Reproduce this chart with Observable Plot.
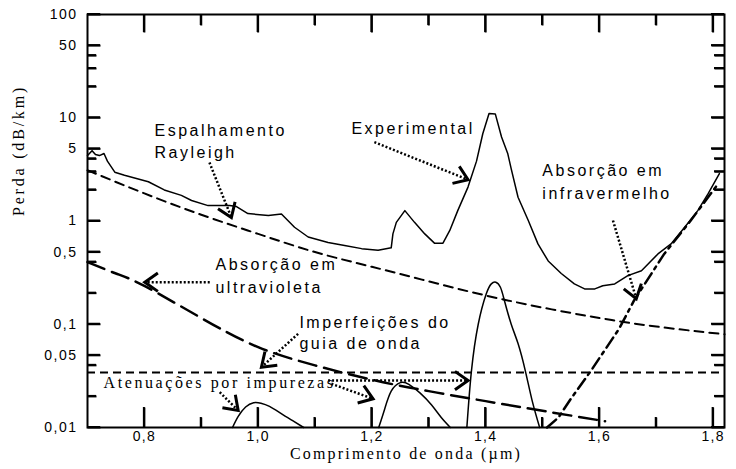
<!DOCTYPE html>
<html><head><meta charset="utf-8">
<script src="https://cdn.jsdelivr.net/npm/d3@7"></script>
<script src="https://cdn.jsdelivr.net/npm/@observablehq/plot@0.6"></script>
<style>
body{margin:0;background:#fff}
</style></head><body><div id="chart"></div>
<script>
// ---- data (wavelength µm, loss dB/km) ----
const experimental = [[0.700,4.3],[0.708,4.8],[0.714,4.4],[0.721,4.3],[0.729,4.5],[0.735,3.8],[0.748,2.97],[0.765,2.77],[0.807,2.4],[0.835,2.0],[0.865,1.77],[0.883,1.58],[0.912,1.41],[0.950,1.41],[0.962,1.38],[0.982,1.18],[1.018,1.13],[1.041,1.17],[1.064,0.87],[1.088,0.70],[1.123,0.62],[1.152,0.58],[1.182,0.54],[1.211,0.52],[1.234,0.55],[1.237,0.75],[1.243,0.97],[1.258,1.26],[1.275,0.97],[1.293,0.75],[1.310,0.61],[1.325,0.61],[1.337,0.81],[1.351,1.26],[1.369,2.13],[1.384,3.8],[1.395,7.0],[1.406,11.0],[1.417,10.9],[1.428,6.5],[1.439,4.47],[1.445,3.2],[1.457,1.70],[1.475,1.01],[1.492,0.60],[1.510,0.41],[1.533,0.31],[1.556,0.246],[1.574,0.22],[1.592,0.22],[1.606,0.236],[1.627,0.246],[1.650,0.296],[1.674,0.33],[1.703,0.48],[1.726,0.60],[1.750,0.87],[1.773,1.26],[1.791,1.83],[1.811,2.88]];
const rayleigh = [[0.70,3.1],[0.80,1.85],[0.90,1.15],[1.00,0.75],[1.10,0.50],[1.20,0.36],[1.30,0.26],[1.40,0.19],[1.50,0.145],[1.60,0.115],[1.70,0.095],[1.82,0.08]];
const ultraviolet = [[0.70,0.40],[0.75,0.31],[0.80,0.235],[0.90,0.115],[1.00,0.060],[1.10,0.040],[1.20,0.029],[1.30,0.0225],[1.40,0.018],[1.50,0.0145],[1.61,0.0115]];
const infrared = [[1.508,0.01],[1.528,0.0125],[1.55,0.019],[1.586,0.036],[1.635,0.091],[1.661,0.17],[1.714,0.48],[1.76,1.0],[1.809,2.3]];
const waveguideLevel = [0.034];
const impurity1 = [[0.955,0.01],[0.965,0.0128],[0.978,0.0158],[0.992,0.0174],[1.005,0.0172],[1.02,0.016],[1.04,0.0137],[1.06,0.0117],[1.08,0.01]];
const impurity2 = [[1.212,0.01],[1.222,0.0148],[1.234,0.0225],[1.25,0.0272],[1.265,0.0262],[1.285,0.0215],[1.305,0.0165],[1.322,0.0125],[1.338,0.01]];
const impurity3 = [[1.367,0.01],[1.375,0.035],[1.387,0.1],[1.401,0.196],[1.41,0.246],[1.418,0.255],[1.426,0.228],[1.433,0.17],[1.445,0.1],[1.457,0.065],[1.47,0.035],[1.482,0.018],[1.495,0.01]];

const yMajorTicks = [0.01,0.05,0.1,0.5,1,5,10,50,100];
const yMajorLabels = ["0,01","0,05","0,1","0,5","1","5","10","50","100"];
const yMinorTicks = [0.02,0.04,0.2,0.4,2,3,4,20,30,40];
const xMajorTicks = [0.8,1.0,1.2,1.4,1.6,1.8];
const xMajorLabels = ["0,8","1,0","1,2","1,4","1,6","1,8"];
const xMinorTicks = [0.9,1.1,1.3,1.5,1.7];

const sansLabels = [
  ["Espalhamento",0.8178,7.52],["Rayleigh",0.8178,4.61],
  ["Experimental",1.164,7.87],
  ["Absorção em",1.4997,3.08],["infravermelho",1.4997,1.85],
  ["Absorção em",0.925,0.379],["ultravioleta",0.925,0.227],
  ["Imperfeições do",1.0726,0.104],["guia de onda",1.0726,0.0651]
];
const serifLabels = [["Atenuações por impurezas",0.7281,0.0273]];
const yTitle = "Perda (dB/km)";
const xTitle = "Comprimento de onda (µm)";
// arrows: [from λ, from loss, tip λ, tip loss]
const arrows = [
  [0.9144,3.69,0.953,1.081],
  [1.2044,5.80,1.3691,2.51],
  [1.6239,1.011,1.6649,0.1764],
  [0.9149,0.2555,0.8007,0.2555],
  [1.0703,0.0808,1.0058,0.0384],
  [1.123,0.0285,1.3691,0.0285],
  [1.1288,0.0265,1.2021,0.01897],
  [0.9325,0.02197,0.9649,0.0146]
];

// ---- layout ----
const W=736,H=469,ML=87,MR=12,MT=14,MB=42;
const xDomain=[0.7,1.82], yDomain=[0.01,100];
const sx=d3.scaleLinear(xDomain,[ML,W-MR]);
const sy=d3.scaleLog(yDomain,[H-MB,MT]);
const arrowData = arrows.map(([a,b,c,d])=>({x1:a,y1:b,x2:c,y2:d,
  r: Math.atan2(sx(c)-sx(a), -(sy(d)-sy(b)))*180/Math.PI}));
const yLab = new Map(yMajorTicks.map((v,i)=>[v,yMajorLabels[i]]));
const xLab = new Map(xMajorTicks.map((v,i)=>[v,xMajorLabels[i]]));
const chevron = {draw(ctx,l){const a=16,t=35*Math.PI/180,h=a*Math.cos(t),w=a*Math.sin(t);
  ctx.moveTo(-w,-l+h);ctx.lineTo(0,-l);ctx.lineTo(w,-l+h);}};
const X=d=>d[0], Y=d=>d[1], I=d=>d;
const SANS="Liberation Sans, Arial, sans-serif", SERIF="Liberation Serif, Times New Roman, serif";
const xIn = px => sx.invert(ML+px), xInR = px => sx.invert(W-MR-px);
const yIn = px => sy.invert(H-MB-px), yInT = px => sy.invert(MT+px);
// inward tick segments, in data units, built from the tick arrays
const tickSegs = [
  ...yMajorTicks.map(v=>({x1:xDomain[0],x2:xIn(13),y1:v,y2:v})),
  ...yMinorTicks.map(v=>({x1:xDomain[0],x2:xIn(9),y1:v,y2:v})),
  ...yMajorTicks.map(v=>({x1:xInR(13),x2:xDomain[1],y1:v,y2:v})),
  ...yMinorTicks.map(v=>({x1:xInR(10),x2:xDomain[1],y1:v,y2:v})),
  ...xMajorTicks.map(v=>({x1:v,x2:v,y1:yDomain[0],y2:yIn(20)})),
  ...xMinorTicks.map(v=>({x1:v,x2:v,y1:yDomain[0],y2:yIn(10)})),
  ...xMajorTicks.map(v=>({x1:v,x2:v,y1:yInT(18),y2:yDomain[1]})),
  ...xMinorTicks.map(v=>({x1:v,x2:v,y1:yInT(11),y2:yDomain[1]}))
];

const plot = Plot.plot({
  width:W,height:H,marginLeft:ML,marginRight:MR,marginTop:MT,marginBottom:MB,
  style:{fontFamily:SANS,fontSize:"14px"},
  x:{domain:xDomain,axis:null},
  y:{type:"log",domain:yDomain,axis:null},
  marks:[
    Plot.line(experimental,{x:X,y:Y,stroke:"black",strokeWidth:1.5}),
    Plot.line(rayleigh,{x:X,y:Y,stroke:"black",strokeWidth:2,strokeDasharray:"9,6",curve:"natural"}),
    Plot.line(ultraviolet,{x:X,y:Y,stroke:"black",strokeWidth:2.5,strokeDasharray:"18,8",curve:"natural"}),
    Plot.line(infrared,{x:X,y:Y,stroke:"black",strokeWidth:2.5,strokeDasharray:"12,5,3,5"}),
    Plot.ruleY(waveguideLevel,{stroke:"black",strokeWidth:2,strokeDasharray:"8,5"}),
    Plot.line(impurity1,{x:X,y:Y,stroke:"black",strokeWidth:1.5,curve:"natural"}),
    Plot.line(impurity2,{x:X,y:Y,stroke:"black",strokeWidth:1.5,curve:"natural"}),
    Plot.line(impurity3,{x:X,y:Y,stroke:"black",strokeWidth:1.5,curve:"natural"}),
    Plot.link(arrowData,{x1:"x1",y1:"y1",x2:"x2",y2:"y2",stroke:"black",strokeWidth:2.5,strokeDasharray:"2,2"}),
    Plot.vector(arrowData,{x:"x2",y:"y2",rotate:"r",length:16,anchor:"end",shape:chevron,stroke:"black",strokeWidth:3,strokeLinejoin:"miter",strokeLinecap:"butt"}),
    Plot.text(sansLabels,{x:d=>d[1],y:d=>d[2],text:d=>d[0],textAnchor:"start",fontSize:16,fontFamily:SANS}),
    Plot.text(serifLabels,{x:d=>d[1],y:d=>d[2],text:d=>d[0],textAnchor:"start",fontSize:16,fontFamily:SERIF}),
    Plot.frame({stroke:"black",strokeWidth:2}),
    Plot.link(tickSegs,{x1:"x1",y1:"y1",x2:"x2",y2:"y2",stroke:"black",strokeWidth:2}),
    Plot.text(yMajorTicks,{y:I,text:d=>yLab.get(d),frameAnchor:"left",textAnchor:"end",dx:-10,fontSize:14,fontFamily:SANS}),
    Plot.text(xMajorTicks,{x:I,text:d=>xLab.get(d),frameAnchor:"bottom",lineAnchor:"top",dy:4,fontSize:14,fontFamily:SANS}),
    Plot.text([yTitle],{frameAnchor:"left",dx:-69,dy:-5,rotate:-90,fontSize:16,fontFamily:SERIF}),
    Plot.text([xTitle],{frameAnchor:"bottom",dy:31,fontSize:16,fontFamily:SERIF})
  ]
});
// letter spacing as in the reference
const spacing = new Map();
sansLabels.forEach(d=>spacing.set(d[0],2.5));
serifLabels.forEach(d=>spacing.set(d[0],2.6));
yMajorLabels.forEach(t=>spacing.set(t,1.5));
xMajorLabels.forEach(t=>spacing.set(t,1.2));
spacing.set(yTitle,2.8); spacing.set(xTitle,2.2);
d3.select(plot).selectAll("text").each(function(){
  const s = spacing.get(this.textContent);
  if (s!=null) this.setAttribute("letter-spacing", s);
});
// inward ticks also placed through the plot's own x and y scales, on top of everything
const px = plot.scale("x"), py = plot.scale("y");
d3.select(plot).append("g").attr("stroke","black").attr("stroke-width",2)
  .selectAll("line").data(tickSegs).join("line")
  .attr("x1",d=>px.apply(d.x1)).attr("x2",d=>px.apply(d.x2))
  .attr("y1",d=>py.apply(d.y1)).attr("y2",d=>py.apply(d.y2));
document.getElementById("chart").appendChild(plot);
</script></body></html>
